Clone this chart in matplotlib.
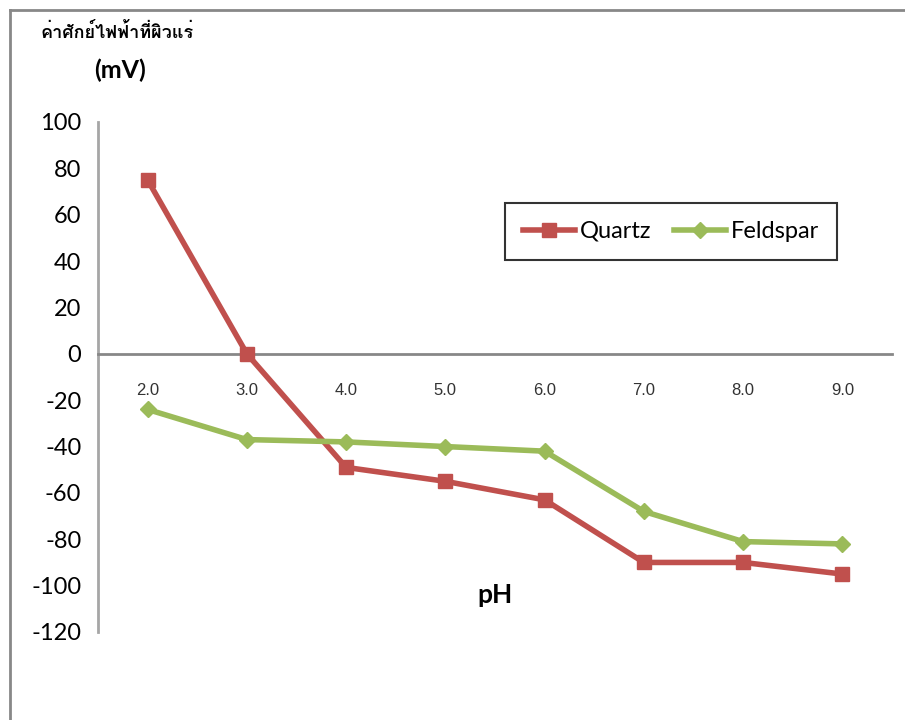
import matplotlib
matplotlib.use("Agg")
import matplotlib.pyplot as plt
from matplotlib.lines import Line2D

# data
ph_labels = ["2.0", "3.0", "4.0", "5.0", "6.0", "7.0", "8.0", "9.0"]
quartz = [75, 0, -49, -55, -63, -90, -90, -95]
feldspar = [-24, -37, -38, -40, -42, -68, -81, -82]
y_ticks = [100, 80, 60, 40, 20, 0, -20, -40, -60, -80, -100, -120]

red = "#C0504D"
green = "#9BBB59"

fig = plt.figure(figsize=(9.05, 7.2), dpi=100)
ax = fig.add_axes([98 / 905, 1 - 632 / 720, 794 / 905, 510 / 720])

# spines first: moving a spine resets the ticks
for s in ["top", "right"]:
    ax.spines[s].set_visible(False)
ax.spines["bottom"].set_position(("data", 0))
ax.spines["bottom"].set_color("#878787")
ax.spines["bottom"].set_linewidth(2)
ax.spines["left"].set_color("#A6A6A6")
ax.spines["left"].set_linewidth(2)

x = list(range(len(ph_labels)))
ax.plot(x, quartz, color=red, lw=4, marker="s", ms=10, label="Quartz", zorder=3)
ax.plot(x, feldspar, color=green, lw=4, marker="D", ms=8, label="Feldspar", zorder=3)

ax.set_xlim(-0.5, 7.5)
ax.set_ylim(-120, 100)
ax.set_yticks(y_ticks)
ax.set_yticklabels([str(v) for v in y_ticks], fontsize=17, family="Lato")
ax.set_xticks(x)
ax.set_xticklabels(ph_labels, fontsize=12, family="Liberation Sans", color="#333333")
ax.tick_params(axis="both", length=0)
ax.tick_params(axis="y", pad=12)
ax.tick_params(axis="x", pad=21)

leg = ax.legend(loc="upper left", ncol=2, bbox_to_anchor=(0.5126, 0.841),
                fancybox=False, edgecolor="black",
                prop={"family": "Lato", "size": 17}, handlelength=2.2,
                columnspacing=1.0, handletextpad=0.2, borderpad=0.75,
                borderaxespad=0)
leg.get_frame().set_linewidth(1.5)

fig.text(40 / 905, 1 - 33 / 720, "ค่าศักย์ไฟฟ้าที่ผิวแร่", family="Loma", fontsize=13,
         weight="bold", va="center", ha="left")
fig.text(120 / 905, 1 - 70 / 720, "(mV)", family="Lato", fontsize=18,
         weight="bold", va="center", ha="center")
fig.text(495 / 905, 1 - 595 / 720, "pH", family="Lato", fontsize=19,
         weight="bold", va="center", ha="center")

# outer frame of the chart area (cropped on the right and bottom)
fig.add_artist(Line2D([10 / 905, 10 / 905], [0, 1 - 10 / 720], color="#888888", lw=2))
fig.add_artist(Line2D([10 / 905, 1], [1 - 10 / 720, 1 - 10 / 720], color="#888888", lw=2))

fig.savefig("out.png")
